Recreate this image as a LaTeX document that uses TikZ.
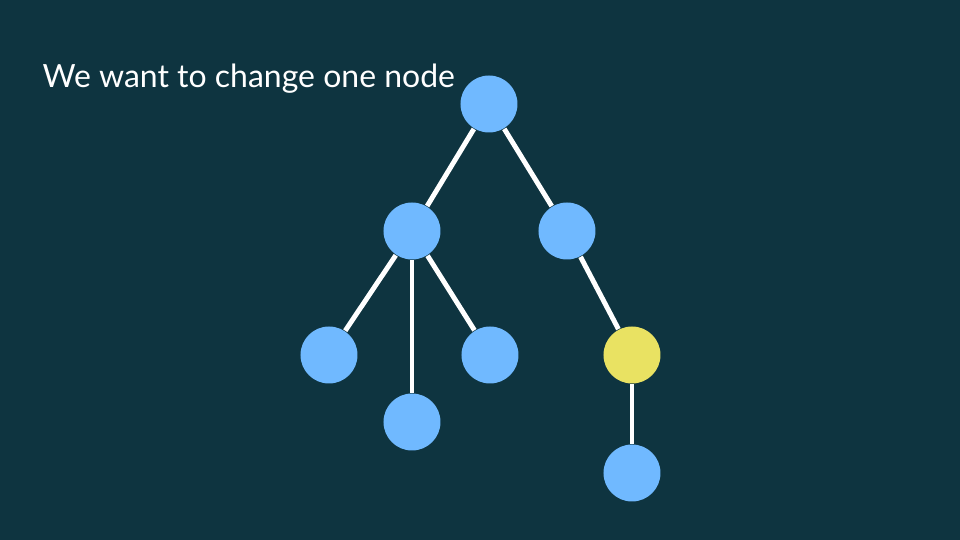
\documentclass[tikz,border=0pt]{standalone}
\usepackage{fontspec}
\setmainfont{Lato}
\usepackage{xcolor}
\usepackage{tikz}
\usetikzlibrary{positioning,calc}

\definecolor{slide}{RGB}{14,52,64}
\definecolor{nodeblue}{RGB}{112,185,255}
\definecolor{nodeyellow}{RGB}{233,226,98}

\begin{document}
\begin{tikzpicture}[
        treenode/.style={circle, fill=nodeblue, inner sep=0pt, minimum size=0.57cm},
        changed/.style={treenode, fill=nodeyellow},
        edge/.style={draw=white, line width=1.4pt}
    ]
        % Slide background
        \fill[slide] (0,0) rectangle (9.6,-5.4);
        \useasboundingbox (0,0) rectangle (9.6,-5.4);

        % Title
        \node[anchor=base west, inner sep=0pt, text=white, font=\fontsize{9.1}{11}\selectfont] (title) at (0.42,-0.88) {We want to change one node};

        % Root and first level
        \node[treenode] (root) at (4.89,-1.04) {};
        \node[treenode] (left) at (4.12,-2.31) {};
        \node[treenode] (right) at (5.67,-2.31) {};

        % Children of left
        \node[treenode] (ll) at (3.29,-3.55) {};
        \node[treenode] (lm) at (4.12,-4.22) {};
        \node[treenode] (lr) at (4.90,-3.55) {};

        % Path on the right
        \node[changed] (target) at (6.32,-3.55) {};
        \node[treenode] (leaf) at (6.32,-4.73) {};

        % Edges
        \draw[edge] (root) -- (left);
        \draw[edge] (root) -- (right);
        \draw[edge] (left) -- (ll);
        \draw[edge] (left) -- (lm);
        \draw[edge] (left) -- (lr);
        \draw[edge] (right) -- (target);
        \draw[edge] (target) -- (leaf);
    \end{tikzpicture}
\end{document}
